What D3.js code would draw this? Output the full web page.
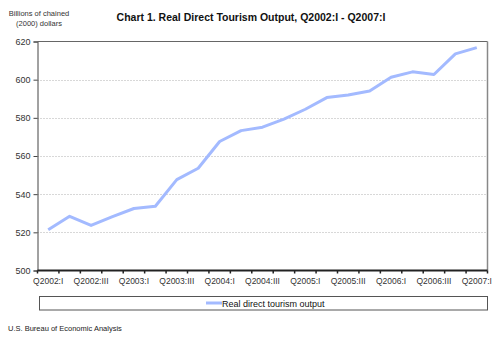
<!DOCTYPE html>
<html><head><meta charset="utf-8">
<script src="https://cdn.jsdelivr.net/npm/d3@7"></script>
<style>body{margin:0;background:#fff}svg{display:block}text{font-family:"Liberation Sans",Arial,sans-serif}</style>
</head><body><svg id="c" width="500" height="341"></svg>
<script>
const categories = ["Q2002:I","Q2002:II","Q2002:III","Q2002:IV","Q2003:I","Q2003:II","Q2003:III","Q2003:IV","Q2004:I","Q2004:II","Q2004:III","Q2004:IV","Q2005:I","Q2005:II","Q2005:III","Q2005:IV","Q2006:I","Q2006:II","Q2006:III","Q2006:IV","Q2007:I"];
const values = [521.3,528.4,523.6,528.2,532.5,533.7,547.6,553.6,567.6,573.3,575.1,579.3,584.5,590.6,592.0,594.1,601.3,604.1,602.7,613.5,616.8];
const yTicks = [500,520,540,560,580,600,620];
const seriesName = "Real direct tourism output";

const svg = d3.select("#c");
const L = 37.5, R = 487.5, T = 41.5, B = 270.5;
const x = d3.scaleBand().domain(categories).range([L, R]);
const y = d3.scaleLinear().domain([500, 620]).range([B, T]);

// grid
svg.append("g").selectAll("line").data(yTicks.filter(d => d > 500 && d < 620)).join("line")
  .attr("x1", L).attr("x2", R).attr("y1", d => Math.round(y(d)) + 0.5).attr("y2", d => Math.round(y(d)) + 0.5)
  .attr("stroke", "#b0b0b0").attr("stroke-dasharray", "1,2");

// border top/right
svg.append("line").attr("x1", L).attr("x2", R).attr("y1", T).attr("y2", T).attr("stroke", "#666");
svg.append("line").attr("x1", R).attr("x2", R).attr("y1", T).attr("y2", B).attr("stroke", "#888").attr("stroke-width", 1.5);

// y axis
const ya = svg.append("g").attr("transform", `translate(${L},0)`)
  .call(d3.axisLeft(y).tickValues(yTicks).tickSize(4).tickPadding(3));
ya.select(".domain").attr("stroke", "#444");
ya.selectAll(".tick line").attr("stroke", "#444");
ya.selectAll("text").attr("font-size", 9).attr("fill", "#333").attr("font-family", "Liberation Sans, Arial, sans-serif");

// x axis
const xa = svg.append("g").attr("transform", `translate(0,${B})`)
  .call(d3.axisBottom(x).tickValues(categories.filter((d, i) => i % 2 === 0)).tickSize(0).tickPadding(7));
xa.select(".domain").remove();
xa.selectAll("text").attr("font-size", 8.5).attr("fill", "#333").attr("font-family", "Liberation Sans, Arial, sans-serif");
svg.append("line").attr("x1", L).attr("x2", R).attr("y1", B).attr("y2", B).attr("stroke", "#222").attr("stroke-width", 2);
svg.append("g").selectAll("line").data(d3.range(categories.length + 1)).join("line")
  .attr("x1", i => L + i * x.step()).attr("x2", i => L + i * x.step())
  .attr("y1", B).attr("y2", B + 3).attr("stroke", "#222").attr("stroke-width", 1.5);

// line
const line = d3.line().x((d, i) => x(categories[i]) + x.bandwidth() / 2).y(d => y(d));
svg.append("path").datum(values).attr("d", line).attr("fill", "none")
  .attr("stroke", "#a3baff").attr("stroke-width", 3).attr("stroke-linejoin", "round");

// title
svg.append("text").attr("x", 251).attr("y", 21).attr("text-anchor", "middle")
  .attr("font-size", 10.5).attr("font-weight", "bold").attr("fill", "#111")
  .text("Chart 1. Real Direct Tourism Output, Q2002:I - Q2007:I");

// y label
svg.append("text").attr("x", 39).attr("y", 16).attr("text-anchor", "middle").attr("font-size", 7.5).attr("fill", "#333").text("Billions of chained");
svg.append("text").attr("x", 39).attr("y", 26).attr("text-anchor", "middle").attr("font-size", 7.5).attr("fill", "#333").text("(2000) dollars");

// legend
svg.append("rect").attr("x", 39.5).attr("y", 296.5).attr("width", 448).attr("height", 13.5)
  .attr("fill", "none").attr("stroke", "#555");
svg.append("line").attr("x1", 206).attr("x2", 222).attr("y1", 303).attr("y2", 303).attr("stroke", "#a3baff").attr("stroke-width", 3);
svg.append("text").attr("x", 222).attr("y", 306.5).attr("font-size", 9).attr("fill", "#111").text(seriesName);

// footer
svg.append("text").attr("x", 8).attr("y", 330.5).attr("font-size", 7.5).attr("fill", "#222").text("U.S. Bureau of Economic Analysis");
</script></body></html>
